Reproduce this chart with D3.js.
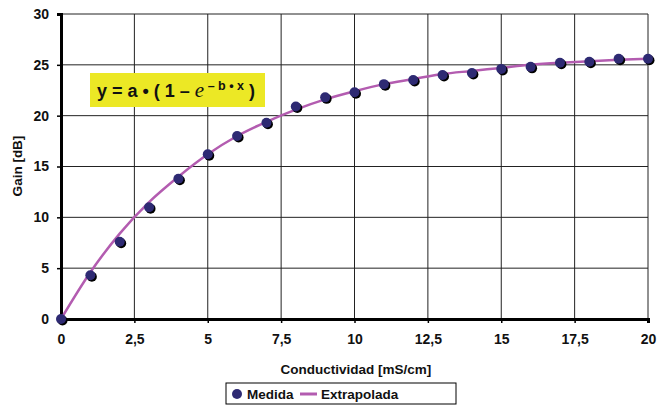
<!DOCTYPE html>
<meta charset="utf-8">
<style>
body { margin: 0; background: #fff; }
svg text { font-family: "Liberation Sans", Arial, sans-serif; font-weight: bold; fill: #111; }
.grid line { stroke: #222; stroke-width: 1; }
.axis path, .axis line { stroke: #000; }
</style>
<svg width="664" height="405"></svg>
<script src="https://d3js.org/d3.v7.min.js"></script>
<script>

// measured points (Medida)
var medX = [0, 1, 2, 3, 4, 5, 6, 7, 8, 9, 10, 11, 12, 13, 14, 15, 16, 17, 18, 19, 20];
var medY = [0, 4.3, 7.6, 11.0, 13.8, 16.2, 18.0, 19.3, 20.9, 21.8, 22.3, 23.1, 23.5, 24.0, 24.2, 24.6, 24.8, 25.2, 25.3, 25.6, 25.6];

// fitted curve (Extrapolada), read at integer steps
var extX = [0, 1, 2, 3, 4, 5, 6, 7, 8, 9, 10, 11, 12, 13, 14, 15, 16, 17, 18, 19, 20];
var extY = [0, 4.6, 8.4, 11.5, 14.0, 16.2, 18.0, 19.4, 20.6, 21.6, 22.4, 23.1, 23.6, 24.1, 24.4, 24.7, 25.0, 25.2, 25.35, 25.5, 25.6];

var xTicks = [0, 2.5, 5, 7.5, 10, 12.5, 15, 17.5, 20];
var yTicks = [0, 5, 10, 15, 20, 25, 30];

var svg = d3.select("svg");
var mLeft = 61, mRight = 648, mTop = 14, mBottom = 319;

var x = d3.scaleLinear().domain([0, 20]).range([mLeft, mRight]);
var y = d3.scaleLinear().domain([0, 30]).range([mBottom, mTop]);

var fmt = function(d) { return String(d).replace(".", ","); };

// grid
var grid = svg.append("g").attr("class", "grid");
grid.selectAll("line.h").data(yTicks.slice(1)).enter().append("line")
    .attr("x1", mLeft).attr("x2", mRight)
    .attr("y1", function(d) { return y(d); }).attr("y2", function(d) { return y(d); });
grid.selectAll("line.v").data(xTicks.slice(1)).enter().append("line")
    .attr("y1", mTop).attr("y2", mBottom)
    .attr("x1", function(d) { return x(d); }).attr("x2", function(d) { return x(d); });

// axes
var xAxis = svg.append("g").attr("class", "axis")
    .attr("transform", "translate(0," + mBottom + ")")
    .call(d3.axisBottom(x).tickValues(xTicks).tickFormat(fmt).tickSize(4).tickPadding(11));
var yAxis = svg.append("g").attr("class", "axis")
    .attr("transform", "translate(" + mLeft + ",0)")
    .call(d3.axisLeft(y).tickValues(yTicks).tickSize(4).tickPadding(8));
[xAxis, yAxis].forEach(function(a) {
  a.select(".domain").attr("stroke-width", 3);
  a.selectAll(".tick line").attr("stroke-width", 1.5);
  a.selectAll("text").style("font-size", "14px").attr("fill", "#111");
});

// equation box
var eq = svg.append("g");
eq.append("rect").attr("x", 90).attr("y", 73).attr("width", 175).attr("height", 34).attr("fill", "#ece825");
var t = eq.append("text").attr("x", 97).attr("y", 97).style("font-size", "18px");
t.append("tspan").text("y = a \u2022 ( 1 \u2013 ");
t.append("tspan").text("e").style("font-family", "'Liberation Serif', serif").style("font-style", "italic").style("font-weight", "normal").style("font-size", "21px");
t.append("tspan").text(" \u2013 b \u2022 x").attr("dy", -7).style("font-size", "12.5px");
t.append("tspan").text(" )").attr("dy", 7);

// curve
var line = d3.line().curve(d3.curveMonotoneX)
    .x(function(d, i) { return x(extX[i]); })
    .y(function(d) { return y(d); });
svg.append("path").datum(extY).attr("d", line)
    .attr("fill", "none").attr("stroke", "#b35cb0").attr("stroke-width", 2.5);

// points
var pts = svg.append("g");
pts.selectAll("circle.s").data(medY).enter().append("circle")
    .attr("cx", function(d, i) { return x(medX[i]) + 1.5; })
    .attr("cy", function(d) { return y(d) + 1.5; })
    .attr("r", 5).attr("fill", "#000");
pts.selectAll("circle.p").data(medY).enter().append("circle")
    .attr("cx", function(d, i) { return x(medX[i]); })
    .attr("cy", function(d) { return y(d); })
    .attr("r", 5).attr("fill", "#2e2a73");

// axis titles
svg.append("text").attr("x", 356).attr("y", 374).attr("text-anchor", "middle")
    .style("font-size", "13.5px").text("Conductividad [mS/cm]");
svg.append("text").attr("transform", "translate(22,166) rotate(-90)").attr("text-anchor", "middle")
    .style("font-size", "13.5px").text("Gain [dB]");

// legend
var lg = svg.append("g");
lg.append("rect").attr("x", 226).attr("y", 383).attr("width", 230).attr("height", 21)
    .attr("fill", "#fff").attr("stroke", "#000");
lg.append("circle").attr("cx", 237).attr("cy", 394).attr("r", 5).attr("fill", "#2e2a73");
lg.append("text").attr("x", 247).attr("y", 399).style("font-size", "13.5px").text("Medida");
lg.append("line").attr("x1", 300).attr("x2", 317).attr("y1", 394).attr("y2", 394)
    .attr("stroke", "#b35cb0").attr("stroke-width", 3);
lg.append("text").attr("x", 321).attr("y", 399).style("font-size", "13.5px").text("Extrapolada");

</script>
